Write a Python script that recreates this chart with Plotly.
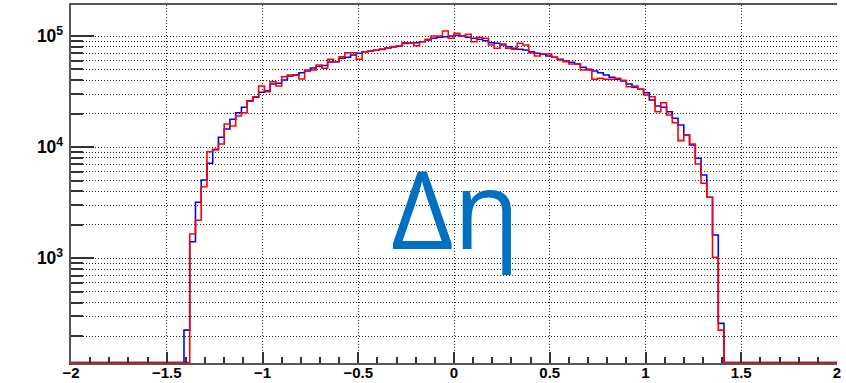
import plotly.graph_objects as go

# Histogram binning: 100 bins of width 0.03 from -1.5 to 1.5
bin_lo = -1.5
bin_width = 0.03

blue_counts = [
    0, 0, 0, 226, 1411, 3193, 5067, 7160, 9570, 12270,
    14570, 17810, 20420, 22840, 26180, 28090, 31160, 32210, 37000, 37540,
    40200, 43680, 44600, 46770, 48440, 51550, 53180, 54280, 58370, 58730,
    63010, 64330, 67470, 69890, 72240, 73300, 74370, 75620, 78010, 79640,
    81280, 85610, 86500, 87040, 88880, 92050, 95350, 97340, 98560, 100000,
    101460, 100000, 97340, 95350, 93390, 90730, 87040, 85970, 82990, 80130,
    77520, 75930, 74840, 72240, 69890, 68460, 66090, 64330, 61720, 59590,
    58000, 56000, 52300, 50180, 48440, 46770, 44600, 42520, 40790, 39380,
    37000, 34560, 33160, 30900, 26570, 23460, 22840, 20850, 18180, 15830,
    12870, 10460, 7940, 5620, 3540, 1622, 260, 0, 0, 0,
]

red_counts = [
    0, 0, 0, 0, 1656, 2199, 4410, 9107, 9432, 10680,
    16160, 15500, 19070, 20420, 25860, 28440, 35500, 31550, 38810, 35500,
    43050, 44600, 44600, 41040, 49450, 49450, 54840, 51220, 61720, 58730,
    65140, 70760, 70760, 61720, 72240, 73300, 74370, 76400, 78010, 80460,
    81280, 87040, 87040, 81790, 88880, 93390, 100000, 100000, 110900, 95350,
    105750, 100000, 103590, 88880, 97340, 95350, 82990, 77520, 84730, 77520,
    75930, 85970, 82990, 70760, 66090, 68880, 68880, 64330, 60830, 58730,
    56000, 56000, 49450, 49450, 40790, 41650, 40790, 40790, 41650, 39950,
    34990, 35500, 33160, 29460, 28440, 20850, 25120, 19470, 16600, 11440,
    12870, 10680, 7056, 4732, 3540, 1022, 226, 0, 0, 0,
]

x_range = [-2.0, 2.0]
y_log_range = [2.0584, 5.2789]
label_text = "Δη"

y_floor = 10 ** (y_log_range[0] + 0.004)


def step_xy(counts):
    xs = [x_range[0]]
    ys = [0]
    for i, c in enumerate(counts):
        xs.append(bin_lo + i * bin_width)
        ys.append(c)
    xs.append(bin_lo + len(counts) * bin_width)
    ys.append(0)
    xs.append(x_range[1])
    ys.append(0)
    ys = [max(v, y_floor) for v in ys]
    return xs, ys


fig = go.Figure()
for counts, color in ((blue_counts, "#0000ff"), (red_counts, "#ff0000")):
    xs, ys = step_xy(counts)
    fig.add_trace(go.Scatter(
        x=xs, y=ys, mode="lines", line=dict(color=color, width=1.6, shape="hv"),
        showlegend=False, hoverinfo="skip",
    ))

grid_col = "#222222"
y_tick_font = dict(family="Liberation Sans", size=14, color="#000000", weight="bold")
x_tick_font = dict(family="Liberation Sans", size=15, color="#000000", weight="bold")

fig.update_xaxes(
    range=[x_range[0], x_range[1] + 1e-6], dtick=0.5, tick0=-2,
    showline=True, linecolor="#555555", linewidth=2, mirror=True,
    ticks="inside", ticklen=11, tickwidth=1.5, tickcolor="#333333",
    showgrid=True, gridcolor=grid_col, griddash="1px,2px", gridwidth=1,
    zeroline=False, tickfont=x_tick_font, automargin=False,
    ticklabelstandoff=-5,
    minor=dict(dtick=0.1, ticks="inside", ticklen=6, tickwidth=1.5,
               tickcolor="#333333", showgrid=False),
)
fig.update_yaxes(
    type="log", range=y_log_range, dtick=1,
    exponentformat="power",
    showline=True, linecolor="#555555", linewidth=2, mirror=False,
    ticks="inside", ticklen=23, tickwidth=1.5, tickcolor="#333333",
    showgrid=True, gridcolor=grid_col, griddash="1px,2px", gridwidth=1,
    zeroline=False, tickfont=y_tick_font, automargin=False,
    ticklabelstandoff=3,
    minor=dict(dtick="D1", ticks="inside", ticklen=12, tickwidth=1.5,
               tickcolor="#333333", showgrid=True, gridcolor=grid_col,
               griddash="1px,2px", gridwidth=1),
)

fig.add_annotation(
    text=label_text, x=0.01, xref="x", y=0.435, yref="paper",
    xanchor="center", yanchor="middle", showarrow=False,
    font=dict(family="Open Sans", size=108, color="#0070c0"),
)

fig.update_layout(
    width=846, height=383,
    margin=dict(l=71, r=9, t=5, b=20),
    plot_bgcolor="white", paper_bgcolor="white",
)

fig.write_html(
    "out.html",
    config={"displayModeBar": False},
    post_script="document.body.style.margin='0';document.body.style.padding='0';",
)
